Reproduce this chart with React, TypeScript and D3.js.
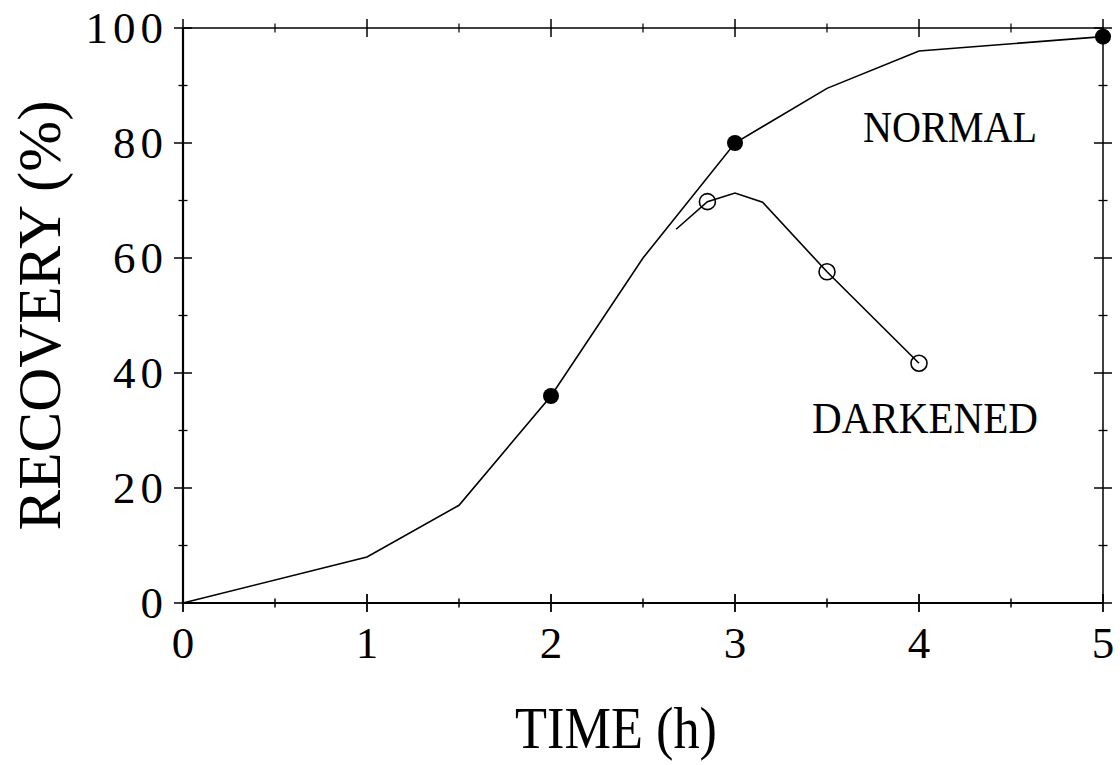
import React from "react";
import * as d3 from "d3";

const normalX = [0, 1, 1.5, 2, 2.5, 3, 3.5, 4, 5];
const normalY = [0, 8, 17, 36, 60, 80, 89.5, 96, 98.5];
const normalMarkX = [2, 3, 5];
const normalMarkY = [36, 80, 98.5];
const darkX = [2.68, 2.85, 3.0, 3.15, 3.5, 4.0];
const darkY = [65, 69.8, 71.3, 69.7, 57.6, 41.7];
const darkMarkX = [2.85, 3.5, 4.0];
const darkMarkY = [69.8, 57.6, 41.7];
const xTicks = [0, 1, 2, 3, 4, 5];
const xMinor = [0.5, 1.5, 2.5, 3.5, 4.5];
const yTicks = [0, 20, 40, 60, 80, 100];
const yMinor = [10, 30, 50, 70, 90];

const W = 1120, H = 765;
const L = 183, R = 1103, T = 28, B = 603;
const FONT = "'Liberation Serif', 'DejaVu Serif', serif";

export default function App() {
  const x = d3.scaleLinear().domain([0, 5]).range([L, R]);
  const y = d3.scaleLinear().domain([0, 100]).range([B, T]);
  const line = d3.line<[number, number]>().x(d => x(d[0])).y(d => y(d[1]));
  const normalPts = normalX.map((v, i) => [v, normalY[i]] as [number, number]);
  const darkPts = darkX.map((v, i) => [v, darkY[i]] as [number, number]);
  const maj = 9, min = 4.5;

  return (
    <svg width={W} height={H} style={{ position: "absolute", left: 0, top: 0, background: "#fff" }}>
      <rect x={0} y={0} width={W} height={H} fill="#fff" />
      {/* frame */}
      <g stroke="#000" fill="none">
        <line x1={L} y1={B} x2={R} y2={B} strokeWidth={2} />
        <line x1={L} y1={T} x2={L} y2={B} strokeWidth={2.2} />
        <line x1={L} y1={T} x2={R} y2={T} strokeWidth={1.5} />
        <line x1={R} y1={T} x2={R} y2={B} strokeWidth={1.5} />
        {xTicks.map(t => (
          <g key={"xt" + t}>
            <line x1={x(t)} x2={x(t)} y1={B - maj} y2={B + maj} strokeWidth={1.8} />
            <line x1={x(t)} x2={x(t)} y1={T - maj} y2={T + maj} strokeWidth={1.5} />
          </g>
        ))}
        {xMinor.map(t => (
          <g key={"xm" + t}>
            <line x1={x(t)} x2={x(t)} y1={B - min} y2={B + min} strokeWidth={1.5} />
            <line x1={x(t)} x2={x(t)} y1={T - min} y2={T + min} strokeWidth={1.2} />
          </g>
        ))}
        {yTicks.map(t => (
          <g key={"yt" + t}>
            <line x1={L - maj} x2={L + maj} y1={y(t)} y2={y(t)} strokeWidth={1.5} />
            <line x1={R - maj} x2={R + maj} y1={y(t)} y2={y(t)} strokeWidth={1.5} />
          </g>
        ))}
        {yMinor.map(t => (
          <g key={"ym" + t}>
            <line x1={L - min} x2={L + min} y1={y(t)} y2={y(t)} strokeWidth={1.3} />
            <line x1={R - min} x2={R + min} y1={y(t)} y2={y(t)} strokeWidth={1.3} />
          </g>
        ))}
      </g>
      {/* tick labels */}
      <g fontFamily={FONT} fontSize={45} fill="#000">
        {xTicks.map(t => (
          <text key={"xl" + t} x={x(t)} y={B + 55} textAnchor="middle">{t}</text>
        ))}
        {yTicks.map(t => (
          <text key={"yl" + t} x={168} y={y(t) + 15} textAnchor="end" letterSpacing={5}>{t}</text>
        ))}
      </g>
      {/* data */}
      <path d={line(normalPts) || ""} fill="none" stroke="#000" strokeWidth={1.6} />
      <path d={line(darkPts) || ""} fill="none" stroke="#000" strokeWidth={1.6} />
      {normalMarkX.map((v, i) => (
        <circle key={"nm" + i} cx={x(v)} cy={y(normalMarkY[i])} r={8} fill="#000" />
      ))}
      {darkMarkX.map((v, i) => (
        <circle key={"dm" + i} cx={x(v)} cy={y(darkMarkY[i])} r={8} fill="#fff" fillOpacity={0} stroke="#000" strokeWidth={1.6} />
      ))}
      {/* labels */}
      <g fontFamily={FONT} fill="#000">
        <text x={863} y={142} fontSize={45} textLength={174} lengthAdjust="spacingAndGlyphs">NORMAL</text>
        <text x={812} y={433} fontSize={45} textLength={226} lengthAdjust="spacingAndGlyphs">DARKENED</text>
        <text x={616} y={748} fontSize={60} textAnchor="middle" textLength={202} lengthAdjust="spacingAndGlyphs">TIME (h)</text>
        <text transform={`translate(60, ${(T + B) / 2}) rotate(-90)`} fontSize={62} textAnchor="middle" textLength={430} lengthAdjust="spacingAndGlyphs">RECOVERY (%)</text>
      </g>
    </svg>
  );
}
